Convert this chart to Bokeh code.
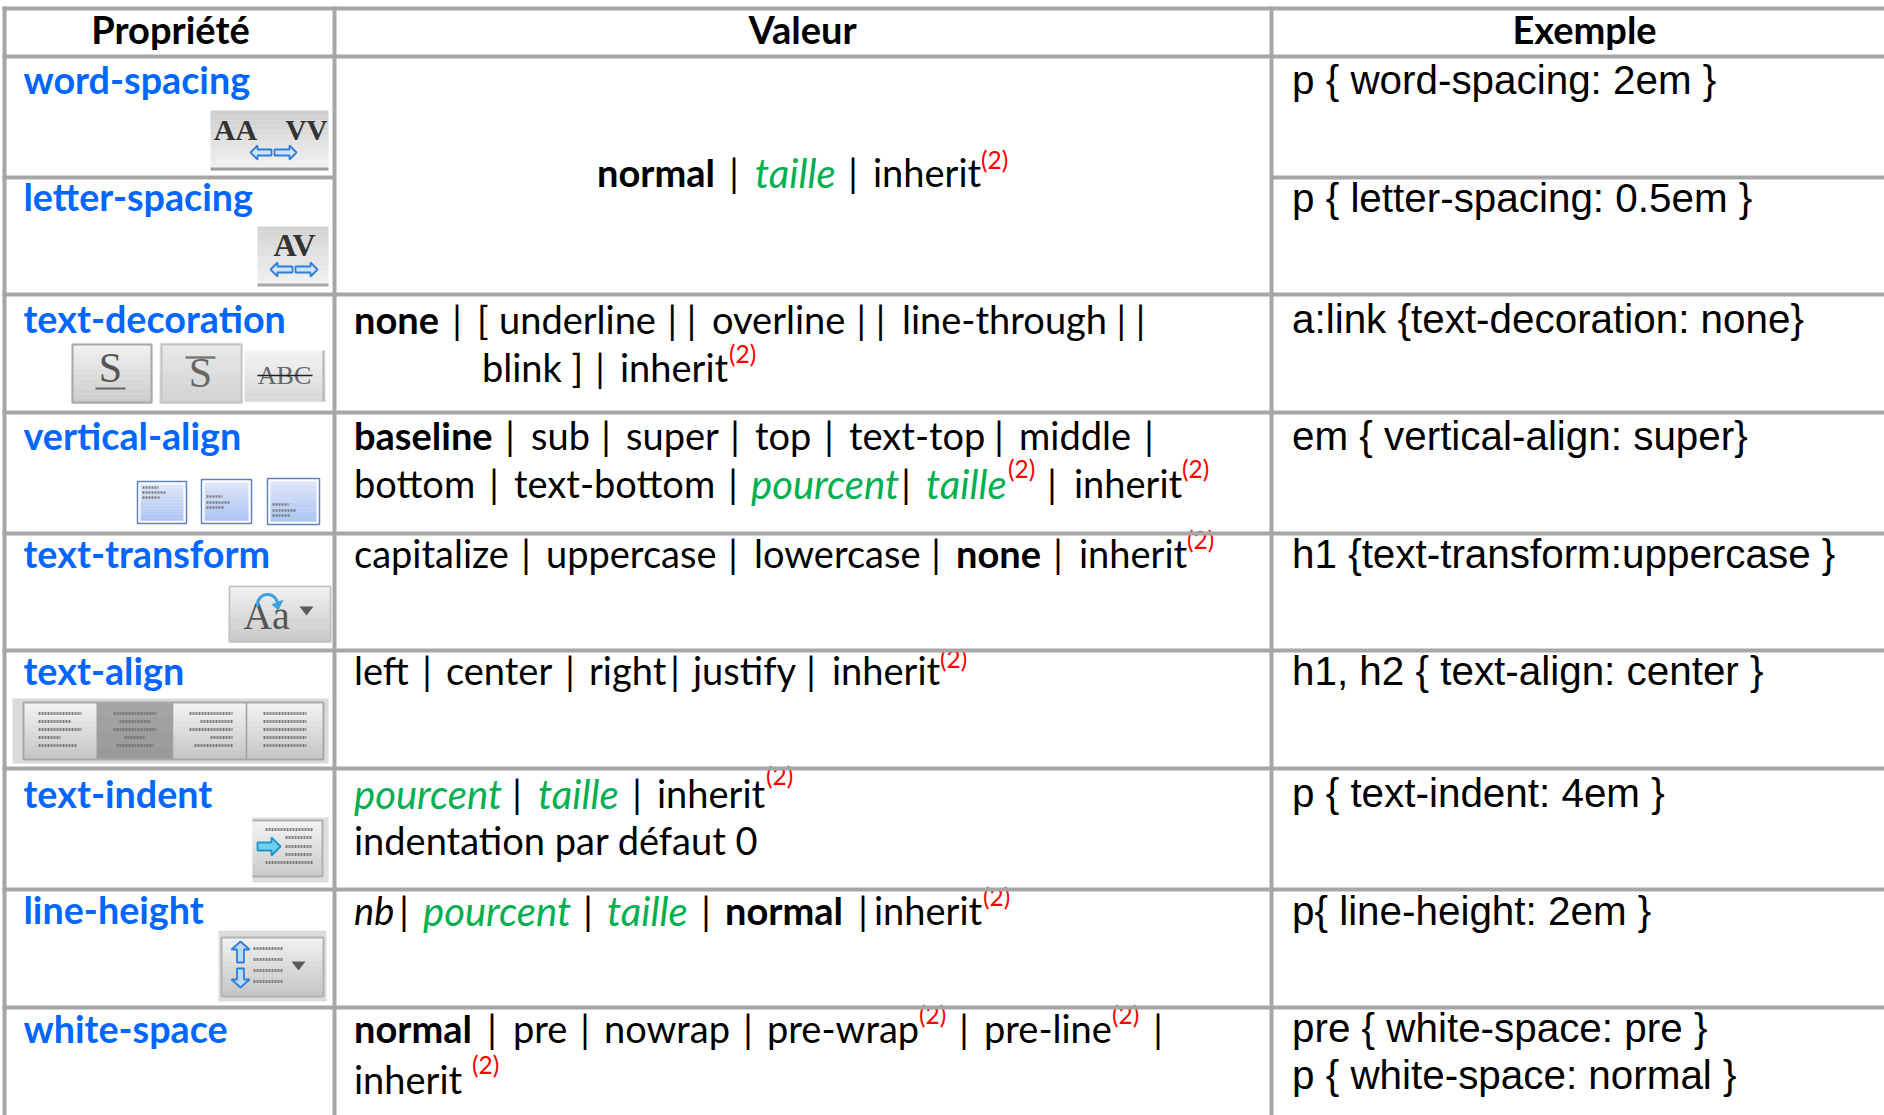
from bokeh.core.properties import value
from bokeh.embed import file_html
from bokeh.models import Range1d
from bokeh.plotting import figure
from bokeh.resources import INLINE

# ---------- table content ----------
HEADERS = ["Propriété", "Valeur", "Exemple"]
PROPERTIES = ["word-spacing", "letter-spacing", "text-decoration", "vertical-align", "text-transform",
              "text-align", "text-indent", "line-height", "white-space"]
EXAMPLES = ["p { word-spacing: 2em }", "p { letter-spacing: 0.5em }", "a:link {text-decoration: none}",
            "em { vertical-align: super}", "h1 {text-transform:uppercase }", "h1, h2 { text-align: center }",
            "p { text-indent: 4em }", "p{ line-height: 2em }", "pre { white-space: pre }",
            "p { white-space: normal }"]
VALUE_RUNS = ["normal", "|", "taille", "|", "inherit", "(2)",
              "none", "|", "[", "underline", "| |", "overline", "| |", "line-through", "| |",
              "blink ]", "|", "inherit", "(2)",
              "baseline", "|", "sub", "|", "super", "|", "top", "|", "text-top", "|", "middle", "|",
              "bottom", "|", "text-bottom", "|", "pourcent", "|", "taille", "(2)", "|", "inherit", "(2)",
              "capitalize", "|", "uppercase", "|", "lowercase", "|", "none", "|", "inherit", "(2)",
              "left", "|", "center", "|", "right", "|", "justify", "|", "inherit", "(2)",
              "pourcent", "|", "taille", "|", "inherit", "(2)", "indentation par défaut 0",
              "nb", "|", "pourcent", "|", "taille", "|", "normal", "|", "inherit", "(2)",
              "normal", "|", "pre", "|", "nowrap", "|", "pre-wrap", "(2)", "|", "pre-line", "(2)", "|",
              "inherit", "(2)"]

# ---------- layout (page pixels) ----------
RUN_PLACE = [(598, 185, "b"), (735, 185, "p"), (756, 185, "g"), (854, 185, "p"), (874, 185, "n"), (982, 168, "s"),
             (355, 332, "b"), (458, 332, "p"), (478, 332, "n"), (500, 332, "n"), (683, 332, "p"), (713, 332, "n"),
             (872, 332, "p"), (903, 332, "n"), (1132, 332, "p"),
             (483, 380, "n"), (601, 380, "p"), (621, 380, "n"), (730, 362, "s"),
             (355, 448, "b"), (511, 448, "p"), (532, 448, "n"), (607, 448, "p"), (627, 448, "n"), (736, 448, "p"),
             (756, 448, "n"), (830, 448, "p"), (850, 448, "n"), (1000, 448, "p"), (1020, 448, "n"), (1150, 448, "p"),
             (355, 496, "n"), (495, 496, "p"), (515, 496, "n"), (734, 496, "p"), (752, 496, "g"), (907, 496, "p"),
             (927, 496, "g"), (1009, 477, "s"), (1053, 496, "p"), (1075, 496, "n"), (1183, 477, "s"),
             (355, 566, "n"), (527, 566, "p"), (547, 566, "n"), (734, 566, "p"), (755, 566, "n"), (937, 566, "p"),
             (957, 566, "b"), (1059, 566, "p"), (1080, 566, "n"), (1188, 548, "s"),
             (355, 683, "n"), (428, 683, "p"), (447, 683, "n"), (571, 683, "p"), (590, 683, "n"), (676, 683, "p"),
             (694, 683, "n"), (812, 683, "p"), (833, 683, "n"), (941, 667, "s"),
             (355, 806, "g"), (518, 806, "p"), (539, 806, "g"), (638, 806, "p"), (658, 806, "n"), (767, 784, "s"),
             (355, 853, "n"),
             (355, 923, "k"), (405, 923, "p"), (424, 923, "g"), (589, 923, "p"), (608, 923, "g"), (707, 923, "p"),
             (726, 923, "b"), (864, 923, "p"), (875, 923, "n"), (984, 905, "s"),
             (355, 1041, "b"), (493, 1041, "p"), (514, 1041, "n"), (586, 1041, "p"), (605, 1041, "n"), (749, 1041, "p"),
             (768, 1041, "n"), (920, 1023, "s"), (965, 1041, "p"), (985, 1041, "n"), (1113, 1023, "s"),
             (1159, 1041, "p"), (355, 1092, "n"), (473, 1073, "s")]
HEADER_PLACE = [(170, 42), (802, 42), (1584, 42)]
PROP_BASE = [93, 210, 332, 449, 567, 684, 807, 923, 1042]
EX_BASE = [94, 212, 333, 450, 568, 685, 807, 925, 1042, 1089]
H_LINES = [8, 56, 294, 412, 533, 650, 768, 889, 1007]
V_LINES = [4, 334, 1271]
GREY = "#a6a6a6"
SIZE = 38

p = figure(width=1884, height=1115, x_range=Range1d(0, 1884), y_range=Range1d(1115, 0),
           toolbar_location=None, output_backend="svg", min_border=0,
           background_fill_color="white", border_fill_color="white")
p.axis.visible = False
p.grid.visible = False
p.outline_line_color = None


def mix(c0, c1, t):
    a = [int(c0[i:i + 2], 16) for i in (1, 3, 5)]
    b = [int(c1[i:i + 2], 16) for i in (1, 3, 5)]
    return "#%02x%02x%02x" % tuple(round(a[i] + (b[i] - a[i]) * t) for i in range(3))


def grad(x0, x1, y0, y1, c0, c1, n=12):
    h = (y1 - y0) / n
    p.quad(left=x0, right=x1, top=[y0 + i * h for i in range(n)], bottom=[y0 + (i + 1) * h + .3 for i in range(n)],
           fill_color=[mix(c0, c1, i / (n - 1)) for i in range(n)], line_color=None)


def frame(x0, x1, y0, y1, color, w=1.5):
    p.quad(left=x0, right=x1, top=y0, bottom=y1, fill_color=None, line_color=color, line_width=w)


def dashes(x0, x1, y, color="#6e6e6e", w=3):
    p.line([x0, x1], [y, y], line_color=color, line_width=w, line_dash="2 1", line_alpha=.85)


def label(x, y, txt, size, color="#333333", font="Liberation Serif", style="bold", align="center"):
    # the page's text sits 0.36 em below the requested baseline, so it is raised by as much
    p.text([x], [y - 0.36 * size], text=[txt], text_font=value(font), text_font_size=f"{size}px", text_color=color,
           text_font_style=style, text_align=align, text_baseline="alphabetic")


def harrow(x0, x1, y, fill="#cfe4fa", edge="#2f7fd8", head=7, hw=7, sw=3):
    d = 1 if x1 > x0 else -1
    xs = [x0, x1 - d * head, x1 - d * head, x1, x1 - d * head, x1 - d * head, x0]
    ys = [y - sw, y - sw, y - hw, y, y + hw, y + sw, y + sw]
    p.patch(xs, ys, fill_color=fill, line_color=edge, line_width=1.8)


def varrow(x, y0, y1, fill="#bcd9f7", edge="#2f7fd8", head=8, hw=9, sw=3.5):
    d = 1 if y1 > y0 else -1
    ys = [y0, y1 - d * head, y1 - d * head, y1, y1 - d * head, y1 - d * head, y0]
    xs = [x - sw, x - sw, x - hw, x, x + hw, x + sw, x + sw]
    p.patch(xs, ys, fill_color=fill, line_color=edge, line_width=1.8)


def tri(x, y, color="#5a5a5a"):
    p.patch([x - 7, x + 7, x], [y - 4, y - 4, y + 5], fill_color=color, line_color=None)


# ---------- icons ----------
# word-spacing
grad(210, 328, 110, 170, "#cfcfcf", "#f1f1f1")
p.quad(left=210, right=328, top=167, bottom=170, fill_color="#9c9c9c", line_color=None)
label(235, 140, "AA", 30)
label(306, 140, "VV", 29)
harrow(271, 250, 152); harrow(274, 296, 152)
# letter-spacing
grad(257, 328, 226, 286, "#d4d4d4", "#f1f1f1")
p.quad(left=257, right=328, top=283, bottom=286, fill_color="#a8a8a8", line_color=None)
label(294, 256, "AV", 32)
harrow(292, 270, 269); harrow(295, 317, 269)
# text-decoration
grad(71, 152, 343, 403, "#f0f0f0", "#cccccc"); frame(72, 151, 344, 402, "#a9a9a9", 2)
label(110, 383, "S", 42, color="#555555", style="normal")
p.line([95, 125], [388, 388], line_color="#666666", line_width=2)
grad(159, 242, 342, 403, "#e9e9e9", "#d2d2d2"); frame(161, 241, 344, 402, "#c4c4c4", 2)
label(200, 388, "S", 42, color="#666666", style="normal")
p.line([185, 215], [357, 357], line_color="#777777", line_width=2.5)
grad(244, 325, 350, 401, "#f2f2f2", "#d8d8d8")
p.line([323, 323], [350, 401], line_color="#b5b5b5", line_width=2)
label(284, 384, "ABC", 26, color="#666666", style="normal")
p.line([257, 312], [375, 375], line_color="#222222", line_width=1.5)
# vertical-align
for (x0, x1, y0, y1, rows) in [(137, 186, 481, 523, (487, 492, 497)), (201, 251, 479, 523, (496, 502, 507)),
                               (267, 319, 478, 524, (504, 510, 515))]:
    p.quad(left=x0, right=x1, top=y0, bottom=y1, fill_color="white", line_color="#5f82c0", line_width=1.5)
    grad(x0 + 3, x1 - 3, y0 + 3, y1 - 3, "#dbe4f8", "#adc5f2")
    for y, w in zip(rows, (16, 24, 18)):
        dashes(x0 + 5, x0 + 5 + w, y, w=2.4)
# text-transform
grad(228, 331, 585, 642, "#f0f0f0", "#c9c9c9")
frame(229, 330, 586, 641, "#c0c0c0")
label(266, 629, "Aa", 40, color="#555555", style="normal")
p.arc(x=267, y=604, radius=10, start_angle=-2.9, end_angle=-0.3, direction="clock", line_color="#3da0e0", line_width=3)
p.patch([271, 283, 278], [604, 599, 610], fill_color="#3da0e0", line_color=None)
tri(306, 610)
# text-align
p.quad(left=12, right=328, top=698, bottom=763, fill_color="#dadada", line_color=None)
grad(23, 323, 702, 759, "#f2f2f2", "#c6c6c6")
grad(96, 172, 702, 759, "#a4a4a4", "#9a9a9a", n=4)
frame(23, 323, 702, 759, "#a8a8a8", 2)
for xv in (172, 246):
    p.line([xv, xv], [702, 759], line_color="#a0a0a0", line_width=1.5)
ROWS_Y = (713, 721, 729, 737, 745)
for seg in [((38, 81), (38, 71), (38, 81), (38, 60), (38, 76)),
            ((113, 156), (119, 150), (113, 156), (124, 145), (116, 153)),
            ((189, 232), (200, 232), (189, 232), (210, 232), (194, 232)),
            ((263, 306),) * 5]:
    for y, (a, b) in zip(ROWS_Y, seg):
        dashes(a, b, y)
# text-indent
p.quad(left=252, right=328, top=817, bottom=882, fill_color="#dedede", line_color=None)
grad(252, 322, 820, 876, "#f2f2f2", "#cbcbcb")
p.line([252, 322, 322, 252], [820, 820, 876, 876], line_color="#b0b0b0", line_width=2)
for y, x0 in zip((829, 837, 846, 854, 862), (265, 285, 285, 285, 265)):
    dashes(x0, 312, y)
harrow(257, 280, 846, fill="#6fd0f0", edge="#1c96c8", head=9, hw=9, sw=4)
# line-height
p.quad(left=218, right=326, top=930, bottom=1001, fill_color="#dcdcdc", line_color=None)
grad(221, 323, 937, 996, "#f0f0f0", "#c6c6c6")
frame(221, 323, 937, 996, "#b2b2b2", 2)
for y in (948, 959, 970, 981):
    dashes(253, 283, y)
varrow(240, 962, 941); varrow(240, 968, 987)
tri(298, 965)

# ---------- text ----------
for txt, (x, y) in zip(HEADERS, HEADER_PLACE):
    label(x, y, txt, SIZE, color="black", font="Lato", style="bold")
for txt, y in zip(PROPERTIES, PROP_BASE):
    label(23, y, txt, 37.7, color="#0066ff", font="Lato", style="bold", align="left")
for txt, y in zip(EXAMPLES, EX_BASE):
    label(1291.5, y, txt, 40.4, color="black", font="Liberation Sans", style="normal", align="left")
KINDS = {"n": ("black", "normal", SIZE, "left", 0), "b": ("black", "bold", SIZE, "left", 0),
         "g": ("#00b050", "italic", 40, "left", 1.5), "k": ("black", "italic", SIZE, "left", 0),
         "p": ("black", "normal", SIZE, "center", 0), "s": ("#ff0000", "normal", 24.5, "left", 0)}
for txt, (x, y, k) in zip(VALUE_RUNS, RUN_PLACE):
    c, st, sz, al, dy = KINDS[k]
    label(x - 1.5, y + dy, txt, sz, color=c, font="Lato", style=st, align=al)

# ---------- grid lines ----------
for i, y in enumerate(H_LINES):
    p.line([2, 1884], [y, y], line_color=GREY, line_width=4)
for a, b in [(2, 334), (1271, 1884)]:
    p.line([a, b], [177, 177], line_color=GREY, line_width=4)
for x in V_LINES:
    p.line([x, x], [6, 1115], line_color=GREY, line_width=4)

open("out.html", "w").write(file_html(p, INLINE))
